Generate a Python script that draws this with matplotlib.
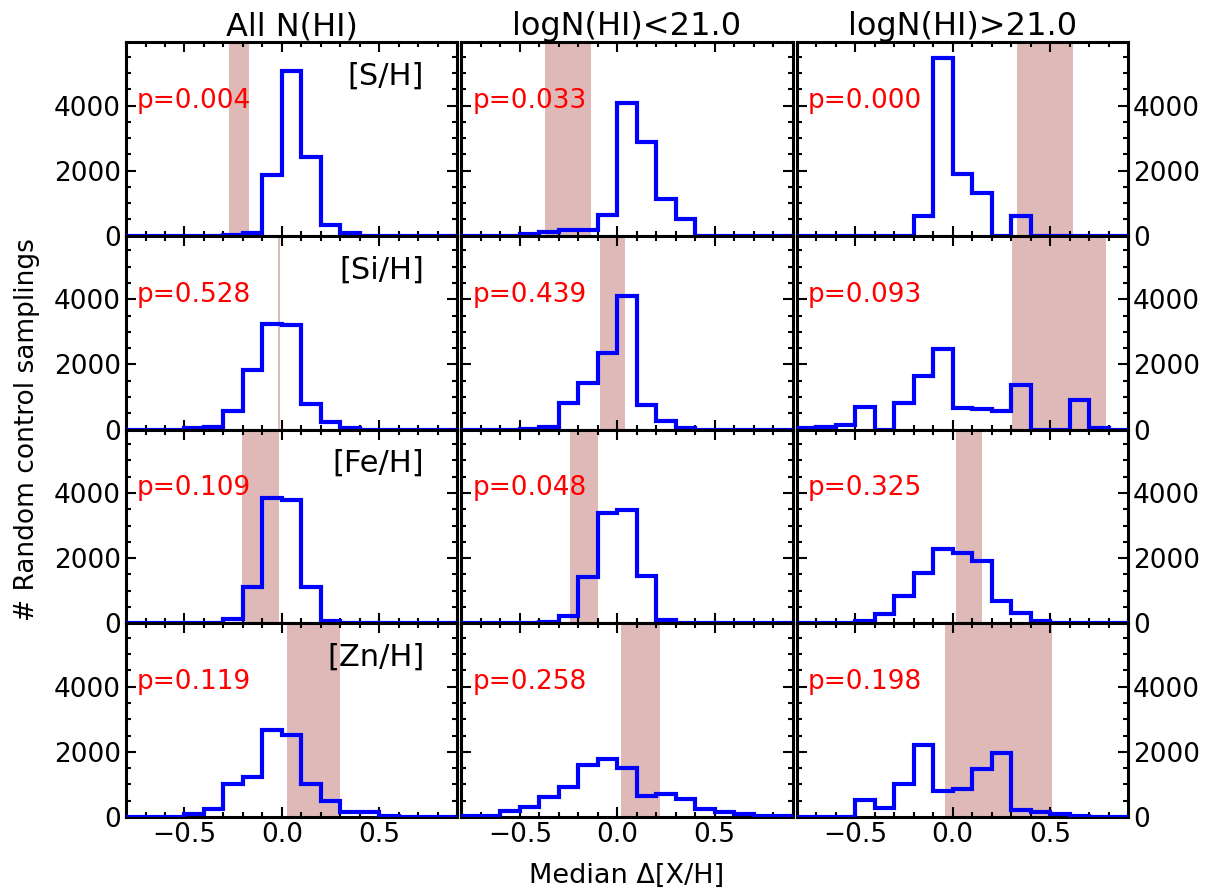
"""Random control samplings: median Delta[X/H] histograms."""

import numpy as np
import matplotlib
matplotlib.use("Agg")
import matplotlib.pyplot as plt
from matplotlib.ticker import MultipleLocator

# bin edges of the histograms (width 0.1 dex)
bin_edges = np.round(np.arange(-0.8, 0.95, 0.1), 1)

col_titles = ["All N(HI)", "logN(HI)<21.0", "logN(HI)>21.0"]
elements = ["[S/H]", "[Si/H]", "[Fe/H]", "[Zn/H]"]

# counts per bin, one list per panel (row = element, column = N(HI) cut)
s_all = [0, 0, 0, 0, 0, 20, 90, 1860, 5050, 2420, 340, 80, 0, 0, 0, 0, 0]
s_low = [0, 0, 0, 60, 115, 165, 165, 630, 4080, 2880, 1120, 500, 0, 0, 0, 0, 0]
s_high = [0, 0, 0, 0, 0, 0, 600, 5450, 1905, 1305, 0, 600, 0, 0, 0, 0, 0]

si_all = [0, 0, 0, 40, 80, 560, 1820, 3240, 3220, 790, 240, 60, 0, 0, 0, 0, 0]
si_low = [0, 0, 0, 30, 80, 810, 1430, 2360, 4100, 760, 270, 60, 0, 0, 0, 0, 0]
si_high = [50, 80, 135, 685, 0, 810, 1650, 2465, 650, 630, 560, 1380, 0, 0, 910, 50, 0]

fe_all = [0, 0, 0, 0, 0, 135, 1120, 3840, 3790, 1100, 80, 0, 0, 0, 0, 0, 0]
fe_low = [0, 0, 0, 0, 50, 220, 1410, 3400, 3480, 1440, 115, 0, 0, 0, 0, 0, 0]
fe_high = [0, 0, 0, 60, 270, 840, 1540, 2270, 2160, 1915, 670, 320, 60, 0, 0, 0, 0]

zn_all = [0, 0, 0, 85, 240, 1010, 1240, 2660, 2530, 1010, 500, 150, 150, 20, 0, 0, 0]
zn_low = [20, 20, 190, 295, 610, 925, 1590, 1770, 1505, 660, 715, 540, 240, 160, 85, 30, 20]
zn_high = [0, 0, 0, 515, 275, 1020, 2200, 800, 850, 1490, 1970, 230, 150, 95, 40, 0, 0]

counts = [
    [s_all, s_low, s_high],
    [si_all, si_low, si_high],
    [fe_all, fe_low, fe_high],
    [zn_all, zn_low, zn_high],
]

# observed median range (shaded band)
obs_ranges = [
    [(-0.270, -0.171), (-0.369, -0.133), (0.331, 0.620)],
    [(-0.022, -0.012), (-0.087, 0.039), (0.307, 0.789)],
    [(-0.203, -0.017), (-0.241, -0.099), (0.017, 0.149)],
    [(0.024, 0.299), (0.021, 0.217), (-0.038, 0.511)],
]

p_values = [
    ["0.004", "0.033", "0.000"],
    ["0.528", "0.439", "0.093"],
    ["0.109", "0.048", "0.325"],
    ["0.119", "0.258", "0.198"],
]

plt.rcParams['font.family'] = 'DejaVu Sans'
plt.rcParams['font.size'] = 19

fig, axes = plt.subplots(
    4, 3, figsize=(12.2, 8.94), dpi=100, sharex=True,
    gridspec_kw=dict(left=0.1033, right=0.9246, top=0.953, bottom=0.0861,
                     wspace=0.012, hspace=0.0),
)

for i in range(4):
    for j in range(3):
        ax = axes[i, j]
        lo, hi = obs_ranges[i][j]
        ax.axvspan(lo, hi, color='#dfb9b8', lw=0, zorder=1)
        ax.stairs(counts[i][j], bin_edges, color='blue', lw=3, zorder=3)

        ax.text(0.033, 0.66, "p=" + p_values[i][j], color='red', fontsize=19,
                transform=ax.transAxes, ha='left', va='baseline', zorder=4)
        if j == 0:
            ax.text(0.90, 0.78, elements[i], fontsize=22, transform=ax.transAxes,
                    ha='right', va='baseline', zorder=4)

        ax.set_xlim(-0.8, 0.9)
        ax.set_ylim(0, 5950)
        ax.set_yticks([0, 2000, 4000])
        ax.xaxis.set_major_locator(MultipleLocator(0.5))
        ax.xaxis.set_minor_locator(MultipleLocator(0.1))
        ax.yaxis.set_minor_locator(MultipleLocator(500))
        ax.tick_params(which='both', direction='in', top=True, right=True,
                       width=1.5, labelsize=19)
        ax.tick_params(which='major', length=7)
        ax.tick_params(which='minor', length=3.5)
        for sp in ax.spines.values():
            sp.set_linewidth(2.2)

        if j == 1:
            ax.tick_params(labelleft=False)
        if j == 2:
            ax.tick_params(labelleft=False, labelright=True)
        if i == 0:
            ax.set_title(col_titles[j], fontsize=23, pad=4)

fig.text(0.022, 0.52, "# Random control samplings", rotation=90,
         ha='center', va='center', fontsize=19)
fig.text(0.514, 0.02, "Median \u0394[X/H]", ha='center', va='center', fontsize=19.5)

plt.savefig("out.png", dpi=100)
